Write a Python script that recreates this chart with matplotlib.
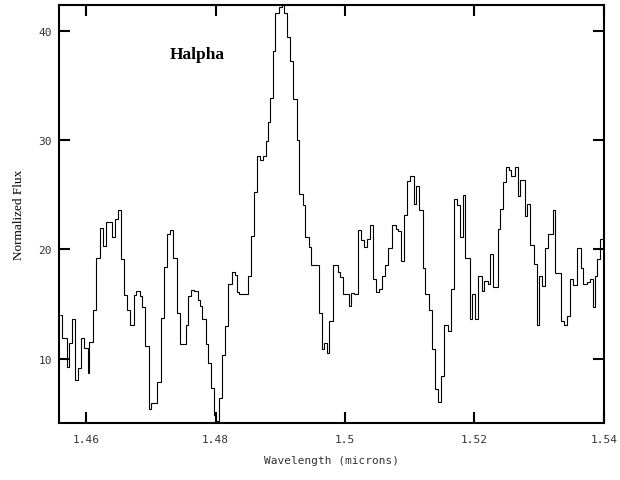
import matplotlib
matplotlib.use("Agg")
import matplotlib.pyplot as plt
import numpy as np

# bin edges (microns) and flux per bin
edges = [
    1.45593, 1.45633, 1.45706, 1.45737, 1.45779, 1.45834, 1.45872, 1.45923, 1.45964, 1.46026,
    1.46051, 1.46108, 1.46159, 1.46212, 1.46263, 1.46314, 1.46398, 1.46449, 1.46490, 1.46546,
    1.46592, 1.46634, 1.46685, 1.46738, 1.46778, 1.46831, 1.46866, 1.46917, 1.46974,
    1.47010, 1.47103, 1.47165, 1.47206, 1.47248, 1.47299, 1.47350, 1.47403, 1.47454, 1.47536,
    1.47578, 1.47620, 1.47660, 1.47722, 1.47763, 1.47794, 1.47845, 1.47887, 1.47929, 1.47969,
    1.48011, 1.48053, 1.48093, 1.48145, 1.48196, 1.48248, 1.48305, 1.48331, 1.48362,
    1.48495, 1.48548, 1.48599, 1.48634, 1.48687, 1.48738, 1.48780, 1.48811, 1.48841, 1.48882,
    1.48923, 1.48975, 1.49027, 1.49058, 1.49109, 1.49151, 1.49202, 1.49253, 1.49295, 1.49346,
    1.49387, 1.49439, 1.49480, 1.49604, 1.49646, 1.49681, 1.49717, 1.49759, 1.49816,
    1.49887, 1.49929, 1.49971, 1.50063, 1.50094, 1.50145, 1.50196, 1.50249, 1.50289, 1.50342,
    1.50382, 1.50435, 1.50486, 1.50527, 1.50579, 1.50620, 1.50661, 1.50733, 1.50784, 1.50815,
    1.50868, 1.50919, 1.50961, 1.51012, 1.51063, 1.51104, 1.51146, 1.51205, 1.51244,
    1.51295, 1.51347, 1.51398, 1.51440, 1.51491, 1.51533, 1.51595, 1.51635, 1.51677, 1.51728,
    1.51780, 1.51821, 1.51862, 1.51924, 1.51966, 1.52006, 1.52059, 1.52110, 1.52152, 1.52203,
    1.52244, 1.52285, 1.52357, 1.52388, 1.52439, 1.52492, 1.52532, 1.52563,
    1.52631, 1.52671, 1.52702, 1.52775, 1.52817, 1.52857, 1.52919, 1.52971, 1.53002, 1.53043,
    1.53095, 1.53135, 1.53208, 1.53250, 1.53343, 1.53383, 1.53425, 1.53476, 1.53528, 1.53579,
    1.53641, 1.53683, 1.53734, 1.53785, 1.53827, 1.53858, 1.53900, 1.53940, 1.53981, 1.54012,
    1.54059,
]

flux = [
    14.0, 11.9, 9.2, 11.4, 13.6, 8.0, 9.1, 11.9, 11.0, 8.7, 11.5, 14.45, 19.25, 22.0,
    20.3, 22.55, 21.1, 22.75, 23.6, 19.1, 15.8, 14.45, 13.1, 15.8, 16.2, 15.7, 14.7, 11.2,
    5.4, 5.9, 7.9, 13.7, 18.4, 21.4, 21.75, 19.25, 14.2, 11.3, 13.1, 15.75, 16.3, 16.2,
    15.4, 14.8, 13.6, 11.3, 9.6, 7.35, 4.8, 4.3, 6.4, 10.3, 13.0, 16.8, 17.95, 17.7, 16.1,
    15.95, 17.55, 21.2, 25.3, 28.55, 28.2, 28.6, 29.9, 31.65, 33.9, 38.2, 41.7, 42.2, 43.0,
    41.7, 39.5, 37.25, 33.75, 30.0, 25.1, 24.1, 21.1, 20.25, 18.6, 14.2, 10.9, 11.4, 10.55, 13.45,
    18.6, 17.9, 17.5, 15.9, 14.8, 16.05, 15.9, 21.75, 20.9, 20.25, 21.0, 22.25, 17.25, 16.1,
    16.35, 17.55, 18.55, 20.1, 22.25, 21.9, 21.7, 18.95, 23.2, 26.3, 26.7, 24.2, 25.8, 23.6, 18.3,
    15.95, 14.5, 10.9, 7.2, 6.0, 8.4, 13.1, 12.55, 16.4, 24.65, 24.1, 21.15, 24.95, 19.25,
    13.6, 15.9, 13.65, 17.55, 16.2, 17.1, 16.8, 19.55, 16.55, 21.9, 23.7, 26.2, 27.6, 27.3,
    26.7, 27.6, 24.9, 26.4, 23.1, 24.2, 20.4, 18.7, 13.1, 17.6, 16.65, 20.1, 21.4, 23.6,
    17.8, 13.45, 13.1, 13.9, 17.25, 16.7, 20.1, 18.3, 16.8, 17.0, 17.25, 14.7, 17.55, 19.15,
    21.0, 21.3, 18.5,
]

xticks = [1.46, 1.48, 1.50, 1.52, 1.54]
xtick_labels = ["1.46", "1.48", "1.5", "1.52", "1.54"]
yticks = [10, 20, 30, 40]
line_name = "Halpha"

fig = plt.figure(figsize=(6.2, 4.81), dpi=100)
ax = fig.add_axes([0.095, 0.1185, 0.879, 0.869])

ax.stairs(np.array(flux), np.array(edges), baseline=None, color="black", lw=0.8)

ax.set_xlim(1.4558, 1.5400)
ax.set_ylim(4.1, 42.4)

ax.set_xticks(xticks)
ax.set_xticklabels(xtick_labels, family="DejaVu Sans Mono", fontsize=8, color="#333333")
ax.set_yticks(yticks)
ax.set_yticklabels([str(v) for v in yticks], family="DejaVu Sans Mono", fontsize=8,
                   color="#333333")
ax.tick_params(direction="in", length=8, width=1.5, top=True, right=True)
ax.tick_params(axis="x", pad=8)
ax.tick_params(axis="y", pad=5)
for sp in ax.spines.values():
    sp.set_linewidth(1.5)

ax.set_xlabel("Wavelength (microns)", family="DejaVu Sans Mono", fontsize=8,
              color="#333333", labelpad=8)
ax.set_ylabel("Normalized Flux", family="Liberation Serif", fontsize=9.5, labelpad=10)

ax.text(1.4772, 37.9, line_name, family="Liberation Serif", fontweight="bold",
        fontsize=12.5, ha="center", va="center")

fig.savefig("out.png", dpi=100)
